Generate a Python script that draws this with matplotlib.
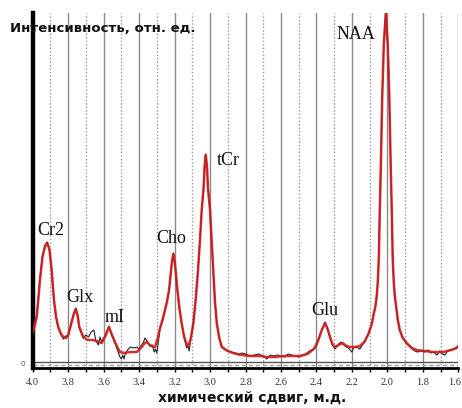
import matplotlib
matplotlib.use("Agg")
import matplotlib.pyplot as plt
import matplotlib.transforms as mtransforms
import numpy as np

# ---- data ----
fit_ppm = [4.000, 3.994, 3.977, 3.959, 3.945, 3.930, 3.918, 3.905, 3.893, 3.880, 3.868, 3.856,
           3.840, 3.827, 3.812, 3.800, 3.780, 3.768, 3.757, 3.747, 3.737, 3.715, 3.690, 3.677,
           3.660, 3.640, 3.611, 3.590, 3.570, 3.555, 3.536, 3.520, 3.508, 3.480, 3.450, 3.413,
           3.390, 3.367, 3.355, 3.340, 3.320, 3.310, 3.295, 3.282, 3.268, 3.254, 3.243, 3.231,
           3.222, 3.215, 3.207, 3.199, 3.192, 3.184, 3.172, 3.160, 3.150, 3.141, 3.122, 3.108,
           3.094, 3.082, 3.069, 3.058, 3.047, 3.036, 3.031, 3.024, 3.017, 3.012, 3.000, 2.990,
           2.981, 2.972, 2.962, 2.948, 2.934, 2.900, 2.870, 2.820, 2.774, 2.720, 2.680, 2.630,
           2.587, 2.540, 2.490, 2.450, 2.436, 2.410, 2.389, 2.370, 2.351, 2.337, 2.323, 2.310,
           2.295, 2.275, 2.252, 2.230, 2.210, 2.180, 2.155, 2.130, 2.107, 2.088, 2.077, 2.068,
           2.060, 2.054, 2.048, 2.043, 2.037, 2.029, 2.020, 2.009, 1.998, 1.989, 1.981, 1.975,
           1.970, 1.964, 1.958, 1.950, 1.941, 1.930, 1.913, 1.891, 1.862, 1.834, 1.790, 1.740,
           1.686, 1.640, 1.610, 1.600]
fit_int = [30, 33, 45, 82, 105, 116, 119, 112, 92, 62, 45, 35,
           28, 25, 24, 27, 40, 48, 53, 47, 35, 25, 22, 22,
           22, 21, 19, 26, 35, 28, 20, 14, 10, 9, 10, 10,
           14, 19, 20, 17, 15, 15, 24, 34, 42, 52, 60, 72,
           88, 100, 108, 100, 88, 72, 53, 39, 29, 22, 15, 24,
           39, 60, 89, 118, 152, 175, 195, 207, 195, 175, 152, 118,
           89, 60, 39, 24, 15, 11, 9, 7, 6, 6, 5, 5,
           6, 6, 6, 8, 10, 14, 22, 32, 39, 33, 25, 18,
           15, 17, 19, 16, 15, 15, 16, 20, 28, 38, 48, 55,
           66, 80, 105, 150, 195, 265, 318, 349, 318, 265, 195, 150,
           105, 80, 66, 55, 42, 32, 24, 19, 14, 12, 11, 10,
           10, 12, 14, 16]

raw_ppm = [4.000, 3.994, 3.985, 3.977, 3.959, 3.945, 3.930, 3.918, 3.905, 3.893, 3.880, 3.868,
           3.856, 3.840, 3.827, 3.815, 3.800, 3.780, 3.768, 3.757, 3.747, 3.737, 3.715, 3.700,
           3.685, 3.670, 3.655, 3.645, 3.630, 3.620, 3.611, 3.590, 3.570, 3.555, 3.536, 3.520,
           3.508, 3.500, 3.492, 3.485, 3.478, 3.465, 3.450, 3.430, 3.413, 3.400, 3.390, 3.375,
           3.367, 3.355, 3.340, 3.325, 3.315, 3.308, 3.300, 3.293, 3.282, 3.268, 3.254, 3.243,
           3.231, 3.222, 3.215, 3.207, 3.199, 3.192, 3.184, 3.172, 3.160, 3.150, 3.141, 3.132,
           3.125, 3.118, 3.108, 3.094, 3.082, 3.069, 3.058, 3.047, 3.036, 3.031, 3.024, 3.017,
           3.012, 3.000, 2.990, 2.981, 2.972, 2.962, 2.948, 2.934, 2.920, 2.900, 2.880, 2.860,
           2.840, 2.820, 2.800, 2.775, 2.750, 2.725, 2.700, 2.680, 2.660, 2.640, 2.620, 2.600,
           2.580, 2.560, 2.540, 2.520, 2.500, 2.480, 2.460, 2.440, 2.420, 2.400, 2.389, 2.370,
           2.351, 2.337, 2.323, 2.310, 2.295, 2.275, 2.262, 2.252, 2.240, 2.220, 2.200, 2.190,
           2.175, 2.155, 2.130, 2.107, 2.088, 2.077, 2.068, 2.060, 2.054, 2.048, 2.043, 2.037,
           2.029, 2.020, 2.009, 1.998, 1.989, 1.981, 1.975, 1.970, 1.964, 1.958, 1.950, 1.941,
           1.930, 1.913, 1.891, 1.870, 1.860, 1.845, 1.830, 1.810, 1.790, 1.770, 1.755, 1.740,
           1.720, 1.705, 1.690, 1.675, 1.660, 1.645, 1.630, 1.615, 1.600]
raw_int = [26, 42, 38, 48, 84, 106, 117, 120, 111, 90, 60, 44,
           34, 27, 23, 26, 26, 41, 49, 54, 46, 34, 24, 27,
           25, 30, 32, 22, 17, 25, 20, 27, 36, 27, 19, 11,
           5, 3, 7, 3, 8, 12, 15, 14, 15, 13, 16, 20,
           24, 21, 16, 17, 10, 13, 9, 18, 33, 42, 52, 61,
           72, 88, 100, 109, 100, 87, 71, 52, 38, 28, 21, 14,
           17, 11, 24, 39, 60, 89, 118, 152, 175, 195, 208, 195,
           175, 152, 118, 89, 60, 39, 24, 16, 13, 11, 10, 9,
           7, 9, 8, 6, 7, 8, 6, 3, 7, 6, 7, 6,
           5, 8, 7, 6, 5, 7, 8, 11, 12, 16, 22, 32,
           40, 33, 24, 17, 13, 18, 20, 18, 16, 14, 10, 15,
           15, 13, 20, 28, 38, 48, 55, 66, 80, 105, 150, 195,
           265, 318, 350, 318, 265, 195, 150, 105, 80, 66, 55, 42,
           31, 24, 18, 15, 13, 11, 10, 11, 10, 12, 9, 10,
           7, 11, 8, 7, 11, 12, 13, 14, 16]

peak_names = ["Cr2", "Glx", "mI", "Cho", "tCr", "Glu", "NAA"]
peak_label_ppm = [3.897, 3.736, 3.536, 3.220, 2.897, 2.353, 2.176]
peak_label_int = [127, 60, 40, 119, 197, 47, 323]

major_ticks = [4.0, 3.8, 3.6, 3.4, 3.2, 3.0, 2.8, 2.6, 2.4, 2.2, 2.0, 1.8, 1.6]
minor_ticks = [3.9, 3.7, 3.5, 3.3, 3.1, 2.9, 2.7, 2.5, 2.3, 2.1, 1.9, 1.7]
tick_labels = ["4.0", "3.8", "3.6", "3.4", "3.2", "3.0", "2.8", "2.6", "2.4", "2.2", "2.0", "1.8", "1.6"]

# ---- figure ----
W, H = 462, 408
fig = plt.figure(figsize=(W / 100, H / 100), dpi=100)
ax = fig.add_axes([32.7 / W, 1 - 368 / H, (458.3 - 32.7) / W, (368 - 13) / H])

ax.set_xlim(4.0, 1.6)
ax.set_ylim(-6, 349)

ax.set_xticks(major_ticks)
ax.set_xticklabels(tick_labels, family="Liberation Serif", fontsize=7.5, color="#333333")
ax.set_xticks(minor_ticks, minor=True)
ax.set_yticks([])
ax.tick_params(axis="x", which="both", direction="out", length=3, width=1, color="black", pad=4)

# keep the last tick label inside the picture
last = ax.get_xticklabels()[-1]
last.set_transform(last.get_transform() + mtransforms.ScaledTranslation(-4 / 100, 0, fig.dpi_scale_trans))

ax.grid(which="major", axis="x", color="#8a8a8a", lw=1.0, ls="-")
ax.grid(which="minor", axis="x", color="#9a9a9a", lw=1.0, ls=(0, (1, 1.5)))
ax.set_axisbelow(True)

for s in ["top", "right"]:
    ax.spines[s].set_visible(False)
ax.spines["left"].set_linewidth(3.2)
ax.spines["bottom"].set_linewidth(2.0)

# zero lines
ax.axhline(0, color="#555555", lw=1.0, zorder=1)
ax.axhline(-2.6, color="#9a9a9a", lw=1.0, ls=(0, (3, 2)), zorder=1)

ax.plot(raw_ppm, raw_int, color="#222222", lw=0.8, zorder=3)
ax.plot(fit_ppm, fit_int, color="#d01c1c", lw=1.8, zorder=4, alpha=0.9)

for name, px, py in zip(peak_names, peak_label_ppm, peak_label_int):
    ax.text(px, py, name, family="Liberation Serif", fontsize=13, color="#111111",
            ha="center", va="baseline", zorder=5)

fig.text(10 / W, 1 - 28 / H, "Интенсивность, отн. ед.", fontsize=9.5, fontweight="bold",
         ha="left", va="center", color="#111111")
fig.text(252 / W, 1 - 398 / H, "химический сдвиг, м.д.", fontsize=10, fontweight="bold",
         ha="center", va="center", color="#111111")
fig.text(23 / W, 1 - 364 / H, "o", fontsize=5.5, color="#666666", ha="center", va="center")

fig.savefig("out.png", dpi=100)
